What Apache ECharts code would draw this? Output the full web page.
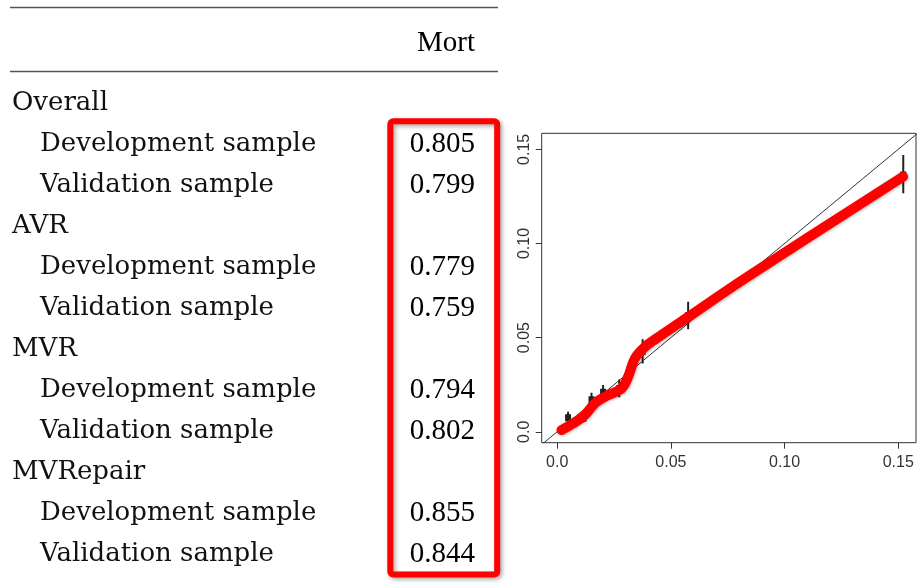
<!DOCTYPE html>
<html>
<head>
<meta charset="utf-8">
<script src="https://cdn.jsdelivr.net/npm/echarts@6/dist/echarts.min.js"></script>
<style>
html,body{margin:0;padding:0;background:#fff;}
#chart{width:917px;height:585px;}
</style>
</head>
<body>
<div id="chart"></div>
<script>
// ---- Table data ----
const rowLabels = ['Overall','Development sample','Validation sample','AVR','Development sample','Validation sample','MVR','Development sample','Validation sample','MVRepair','Development sample','Validation sample'];
const rowIsGroup = [true,false,false,true,false,false,true,false,false,true,false,false];
const mortValues = [null,0.805,0.799,null,0.779,0.759,null,0.794,0.802,null,0.855,0.844];
const columnHeader = 'Mort';

// ---- Calibration plot data ----
const curveX = [0.0019,0.0114,0.0166,0.0217,0.0283,0.0312,0.0342,0.0386,0.0437,0.0576,0.0833,0.1521];
const curveY = [0.0009,0.0080,0.0151,0.0190,0.0230,0.0292,0.0390,0.0451,0.0496,0.0610,0.0820,0.1355];
const ebX    = [0.0048,0.0115,0.0151,0.0202,0.0273,0.0376,0.0576,0.1522];
const ebLow  = [0.0045,0.0050,0.0133,0.0177,0.0183,0.0363,0.0544,0.1266];
const ebHigh = [0.0106,0.0095,0.0207,0.0248,0.0278,0.0491,0.0690,0.1470];
const ebObs  = [0.0075,0.0072,0.0170,0.0210,0.0230,0.0427,0.0617,0.1363];
const identityRange = [-0.01, 0.17];
const tickValues = [0, 0.05, 0.10, 0.15];
const tickLabels = ['0.0','0.05','0.10','0.15'];

const chart = echarts.init(document.getElementById('chart'), null, {renderer:'canvas'});

const labelFont = 'DejaVu Serif';
const numFont = 'Liberation Serif';
const axisFont = 'Liberation Sans';
const textColor = '#111111';

const tableData = [];
mortValues.forEach((v,i)=>{ if(v!==null) tableData.push([1,i,v]); });

const ebData = ebX.map((x,i)=>[x, ebLow[i], ebHigh[i], ebObs[i]]);
const curveData = curveX.map((x,i)=>[x, curveY[i]]);
const identityData = identityRange.map(v=>[v,v]);

function tickFmt(v){
  const idx = tickValues.findIndex(t=>Math.abs(t-v)<1e-9);
  return idx>=0 ? tickLabels[idx] : '';
}

const option = {
  backgroundColor:'#ffffff',
  animation:false,
  grid:[
    {left:541.7, top:133.3, width:374.3, height:309.4, show:true, borderColor:'#333', borderWidth:1, backgroundColor:'#fff'},
    {left:411, top:82.5, width:64, height:492, show:false}
  ],
  xAxis:[
    {gridIndex:0, type:'value', min:-0.0068, max:0.1578,
      axisLine:{show:false, onZero:false}, splitLine:{show:false},
      axisTick:{show:true, inside:false, length:6, customValues:tickValues, lineStyle:{color:'#333',width:1}},
      axisLabel:{show:true, customValues:tickValues, formatter:tickFmt, margin:12,
        fontFamily:axisFont, fontSize:16, color:'#333'}},
    {gridIndex:1, type:'value', min:0, max:1, position:'top',
      axisLine:{show:false, onZero:false}, axisTick:{show:false}, splitLine:{show:false},
      axisLabel:{show:true, customValues:[1], formatter:()=>columnHeader, align:'right', margin:25,
        fontFamily:numFont, fontSize:29, color:'#000'}}
  ],
  yAxis:[
    {gridIndex:0, type:'value', min:-0.0058, max:0.1585,
      axisLine:{show:false, onZero:false}, splitLine:{show:false},
      axisTick:{show:true, inside:false, length:6, customValues:tickValues, lineStyle:{color:'#333',width:1}},
      axisLabel:{show:true, customValues:tickValues, formatter:tickFmt, rotate:90, margin:9,
        fontFamily:axisFont, fontSize:16, color:'#333'}},
    {gridIndex:1, type:'category', inverse:true, data:rowLabels,
      axisLine:{show:false, onZero:false}, axisTick:{show:false}, splitLine:{show:false},
      axisLabel:{show:true, interval:0, align:'left', margin:399,
        formatter:(val, idx)=> rowIsGroup[idx] ? '{g|'+val+'}' : '{s|'+val+'}',
        rich:{
          g:{fontFamily:labelFont, fontSize:26, color:textColor},
          s:{fontFamily:labelFont, fontSize:26, color:textColor, padding:[0,0,0,28]}
        }}}
  ],
  series:[
    {type:'line', xAxisIndex:0, yAxisIndex:0, data:identityData, symbol:'none', clip:true,
      lineStyle:{color:'#333', width:1}, z:2},
    {type:'custom', xAxisIndex:0, yAxisIndex:0, data:ebData, clip:true, z:3,
      renderItem:(params, api)=>{
        const x = api.value(0);
        const p1 = api.coord([x, api.value(1)]);
        const p2 = api.coord([x, api.value(2)]);
        const pc = api.coord([x, api.value(3)]);
        return {type:'group', children:[
          {type:'line', shape:{x1:p1[0],y1:p1[1],x2:p2[0],y2:p2[1]}, style:{stroke:'#222', lineWidth:2}},
          {type:'rect', shape:{x:pc[0]-3,y:pc[1]-3.5,width:6,height:7}, style:{fill:'#222'}}
        ]};
      }},
    {type:'line', xAxisIndex:0, yAxisIndex:0, data:curveData, symbol:'none', smooth:0.35, z:4,
      lineStyle:{color:'#ff0000', width:10, cap:'round', join:'round',
        shadowColor:'rgba(0,0,0,0.25)', shadowBlur:3, shadowOffsetX:1, shadowOffsetY:1}},
    {type:'scatter', xAxisIndex:1, yAxisIndex:1, data:tableData, symbolSize:0.1,
      itemStyle:{color:'rgba(0,0,0,0)'},
      label:{show:true, position:'left', distance:0, formatter:p=>p.value[2].toFixed(3),
        fontFamily:numFont, fontSize:29, color:'#000', opacity:1}}
  ],
  graphic:[
    {type:'line', shape:{x1:10,y1:7.5,x2:498,y2:7.5}, style:{stroke:'#555', lineWidth:1.4}},
    {type:'line', shape:{x1:10,y1:71.5,x2:498,y2:71.5}, style:{stroke:'#555', lineWidth:1.4}},
    {type:'rect', shape:{x:390.3, y:121.2, width:106.9, height:453.3, r:3}, z:100,
      style:{fill:null, stroke:'#ff0000', lineWidth:6,
        shadowColor:'rgba(0,0,0,0.35)', shadowBlur:4, shadowOffsetX:2, shadowOffsetY:2}}
  ]
};
chart.setOption(option);
</script>
</body>
</html>
